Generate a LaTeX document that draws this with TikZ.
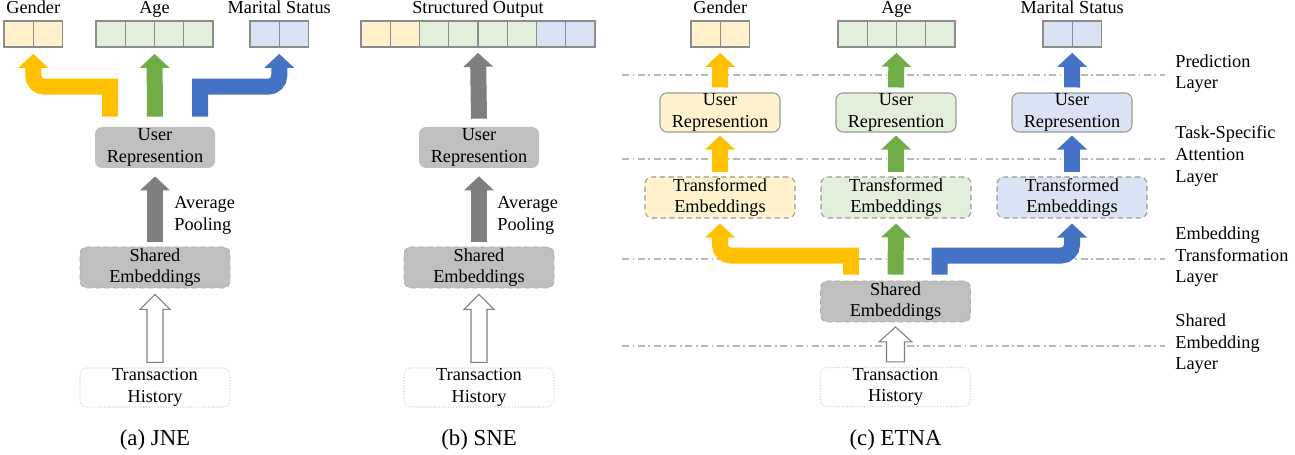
\documentclass[tikz,border=0pt]{standalone}
\usepackage{fontspec}
\setmainfont{Liberation Serif}
\usetikzlibrary{arrows.meta,positioning,fit}

\definecolor{gold}{HTML}{FFC000}
\definecolor{leaf}{HTML}{70AD47}
\definecolor{sky}{HTML}{4472C4}
\definecolor{goldlt}{HTML}{FFF2CC}
\definecolor{leaflt}{HTML}{E2EFDA}
\definecolor{skylt}{HTML}{DAE3F3}
\definecolor{midgr}{HTML}{7F7F7F}
\definecolor{boxgr}{HTML}{BFBFBF}

\begin{document}
\begin{tikzpicture}[
  font=\fontsize{10.4}{12.3}\selectfont,
  lbl/.style={inner sep=0pt},
  cell/.style={rectangle,draw=gray!90,line width=0.6pt,minimum width=0.585cm,
               minimum height=0.52cm,inner sep=0pt},
  grp/.style={inner sep=0pt},
  urbox/.style={rectangle,rounded corners=4pt,fill=boxgr,minimum width=2.4cm,
                minimum height=0.82cm,inner sep=0pt,align=center},
  ucbox/.style={rectangle,rounded corners=4pt,draw=gray!80,line width=0.6pt,
                minimum width=2.4cm,minimum height=0.78cm,inner sep=0pt,align=center},
  tebox/.style={rectangle,rounded corners=4pt,draw=gray!80,densely dashed,line width=0.6pt,
                minimum width=3.0cm,minimum height=0.82cm,inner sep=0pt,align=center},
  sebox/.style={rectangle,rounded corners=4pt,fill=boxgr,draw=gray!65,densely dashed,
                line width=0.5pt,minimum width=3.0cm,minimum height=0.82cm,inner sep=0pt,
                align=center},
  thbox/.style={rectangle,rounded corners=4pt,draw=gray!35,densely dotted,line width=0.6pt,
                minimum width=3.0cm,minimum height=0.78cm,inner sep=0pt,align=center},
  fat/.style={line width=0.32cm,-{Triangle[width=0.58cm,length=0.28cm]}},
  hollow/.style={draw=midgr,fill=white,line width=0.6pt,line join=miter},
  layerline/.style={gray!55,line width=0.6pt,dash pattern=on 4pt off 2pt on 1pt off 2pt},
  captxt/.style={font=\fontsize{13}{15}\selectfont,inner sep=0pt},
]
  \useasboundingbox (0,0) rectangle (25.9,9.1);

  % (a) JNE -- output cells
  \foreach \i in {1,2}
    \node[cell,fill=goldlt] (ga\i) at ({0.08+0.585*(\i-0.5)},8.42) {};
  \foreach \i in {1,...,4}
    \node[cell,fill=leaflt] (aa\i) at ({1.92+0.585*(\i-0.5)},8.42) {};
  \foreach \i in {1,2}
    \node[cell,fill=skylt] (ma\i) at ({5.0+0.585*(\i-0.5)},8.42) {};
  \node[grp,fit=(ga1)(ga2)] (gendera) {};
  \node[grp,fit=(aa1)(aa4)] (agea) {};
  \node[grp,fit=(ma1)(ma2)] (marita) {};
  \node[lbl,above=0.13cm of gendera,anchor=base] {Gender};
  \node[lbl,above=0.13cm of agea,anchor=base] {Age};
  \node[lbl,above=0.13cm of marita,anchor=base] {Marital Status};

  % (a) JNE -- stack
  \node[urbox] (ura) at (3.1,6.15) {User\\Represention};
  \node[sebox] (sea) at (3.1,3.75) {Shared\\Embeddings};
  \node[thbox] (tha) at (3.1,1.35) {Transaction\\History};
  \node[lbl,align=left,anchor=west] (poola) at (3.48,4.79) {Average\\Pooling};
  \node[captxt] (capa) at (3.1,0.3) {(a) JNE};

  \draw[hollow] ([yshift=0.1cm]tha.north) ++(-0.16,0) -- ++(0,1.06) -- ++(-0.14,0)
    -- ++(0.3,0.3) -- ++(0.3,-0.3) -- ++(-0.14,0) -- ++(0,-1.06) -- cycle;
  \draw[fat,midgr] ([yshift=0.1cm]sea.north) -- ([yshift=-0.16cm]ura.south);
  \draw[fat,leaf] ([yshift=0.2cm]ura.north) -- ([yshift=-0.12cm]agea.south);
  \draw[fat,gold] ([xshift=-0.9cm,yshift=0.2cm]ura.north) -- ++(0,0.6)
    [rounded corners=0.22cm] -| ([yshift=-0.12cm]gendera.south);
  \draw[fat,sky] ([xshift=0.9cm,yshift=0.2cm]ura.north) -- ++(0,0.6)
    [rounded corners=0.22cm] -| ([yshift=-0.12cm]marita.south);

  % (b) SNE
  \foreach \c [count=\i] in {goldlt,goldlt,leaflt,leaflt,leaflt,leaflt,skylt,skylt}
    \node[cell,fill=\c] (sb\i) at ({7.22+0.585*(\i-0.5)},8.42) {};
  \node[grp,fit=(sb1)(sb8)] (soutb) {};
  \node[lbl,above=0.13cm of soutb,anchor=base] {Structured Output};

  \node[urbox] (urb) at (9.58,6.15) {User\\Represention};
  \node[sebox] (seb) at (9.58,3.75) {Shared\\Embeddings};
  \node[thbox] (thb) at (9.58,1.35) {Transaction\\History};
  \node[lbl,align=left,anchor=west] (poolb) at (9.94,4.79) {Average\\Pooling};
  \node[captxt] (capb) at (9.58,0.3) {(b) SNE};

  \draw[hollow] ([yshift=0.1cm]thb.north) ++(-0.16,0) -- ++(0,1.06) -- ++(-0.14,0)
    -- ++(0.3,0.3) -- ++(0.3,-0.3) -- ++(-0.14,0) -- ++(0,-1.06) -- cycle;
  \draw[fat,midgr] ([yshift=0.1cm]seb.north) -- ([yshift=-0.16cm]urb.south);
  \draw[fat,midgr] ([yshift=0.16cm]urb.north) -- ([yshift=-0.1cm]soutb.south);

  % (c) ETNA -- layer separators
  \draw[layerline] (12.44,7.6) -- (23.3,7.6);
  \draw[layerline] (12.44,5.92) -- (23.3,5.92);
  \draw[layerline] (12.44,3.92) -- (23.3,3.92);
  \draw[layerline] (12.44,2.18) -- (23.3,2.18);
  \node[lbl,align=left,anchor=west] (lpred) at (23.5,7.63) {Prediction\\Layer};
  \node[lbl,align=left,anchor=west] (latt) at (23.5,5.98) {Task-Specific\\Attention\\Layer};
  \node[lbl,align=left,anchor=west] (ltrans) at (23.5,3.96) {Embedding\\Transformation\\Layer};
  \node[lbl,align=left,anchor=west] (lshared) at (23.5,2.22) {Shared\\Embedding\\Layer};

  % (c) ETNA -- output cells
  \foreach \i in {1,2}
    \node[cell,fill=goldlt] (gc\i) at ({13.82+0.585*(\i-0.5)},8.42) {};
  \foreach \i in {1,...,4}
    \node[cell,fill=leaflt] (ac\i) at ({16.76+0.585*(\i-0.5)},8.42) {};
  \foreach \i in {1,2}
    \node[cell,fill=skylt] (mc\i) at ({20.86+0.585*(\i-0.5)},8.42) {};
  \node[grp,fit=(gc1)(gc2)] (genderc) {};
  \node[grp,fit=(ac1)(ac4)] (agec) {};
  \node[grp,fit=(mc1)(mc2)] (maritc) {};
  \node[lbl,above=0.13cm of genderc,anchor=base] {Gender};
  \node[lbl,above=0.13cm of agec,anchor=base] {Age};
  \node[lbl,above=0.13cm of maritc,anchor=base] {Marital Status};

  % (c) ETNA -- per-task boxes
  \node[ucbox,fill=goldlt] (urgen) at (14.4,6.85) {User\\Represention};
  \node[ucbox,fill=leaflt] (urage) at (17.92,6.85) {User\\Represention};
  \node[ucbox,fill=skylt]  (urmar) at (21.44,6.85) {User\\Represention};
  \node[tebox,fill=goldlt] (tegen) at (14.4,5.15) {Transformed\\Embeddings};
  \node[tebox,fill=leaflt] (teage) at (17.92,5.15) {Transformed\\Embeddings};
  \node[tebox,fill=skylt]  (temar) at (21.44,5.15) {Transformed\\Embeddings};
  \node[sebox] (sec) at (17.91,3.07) {Shared\\Embeddings};
  \node[thbox] (thc) at (17.91,1.36) {Transaction\\History};
  \node[captxt] (capc) at (17.91,0.3) {(c) ETNA};

  \draw[hollow] ([yshift=0.1cm]thc.north) ++(-0.18,0) -- ++(0,0.4) -- ++(-0.15,0)
    -- ++(0.33,0.3) -- ++(0.33,-0.3) -- ++(-0.15,0) -- ++(0,-0.4) -- cycle;
  \draw[fat,leaf] ([yshift=0.12cm]sec.north) -- ([yshift=-0.1cm]teage.south);
  \draw[fat,gold] ([xshift=-0.89cm,yshift=0.12cm]sec.north) -- ++(0,0.38)
    [rounded corners=0.22cm] -| ([yshift=-0.1cm]tegen.south);
  \draw[fat,sky] ([xshift=0.88cm,yshift=0.12cm]sec.north) -- ++(0,0.38)
    [rounded corners=0.22cm] -| ([yshift=-0.1cm]temar.south);

  \draw[fat,gold] ([yshift=0.08cm]tegen.north) -- ([yshift=-0.06cm]urgen.south);
  \draw[fat,leaf] ([yshift=0.08cm]teage.north) -- ([yshift=-0.06cm]urage.south);
  \draw[fat,sky]  ([yshift=0.08cm]temar.north) -- ([yshift=-0.06cm]urmar.south);
  \draw[fat,gold] ([yshift=0.1cm]urgen.north) -- ([yshift=-0.1cm]genderc.south);
  \draw[fat,leaf] ([yshift=0.1cm]urage.north) -- ([yshift=-0.1cm]agec.south);
  \draw[fat,sky]  ([yshift=0.1cm]urmar.north) -- ([yshift=-0.1cm]maritc.south);
\end{tikzpicture}
\end{document}
